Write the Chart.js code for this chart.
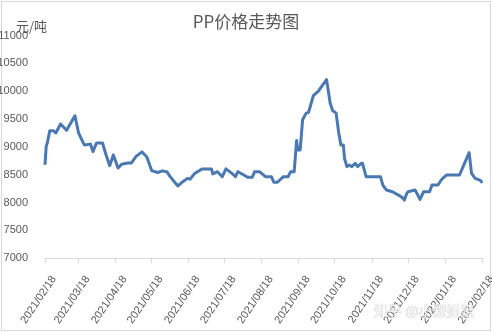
<!DOCTYPE html>
<html>
<head>
<meta charset="utf-8">
<script src="https://cdn.jsdelivr.net/npm/chart.js@4.4.0/dist/chart.umd.min.js"></script>
<style>
html, body { margin: 0; padding: 0; background: #fff; }
#box { width: 492px; height: 332px; }
</style>
</head>
<body>
<div id="box"><canvas id="c" width="492" height="332"></canvas></div>
<script>
// ===== 数据 =====
const dates = [
    '2021-02-18', '2021-02-19', '2021-02-20', '2021-02-22', '2021-02-25', '2021-02-27',
    '2021-03-03', '2021-03-08', '2021-03-15', '2021-03-18', '2021-03-22', '2021-03-23',
    '2021-03-28', '2021-03-30', '2021-04-02', '2021-04-07', '2021-04-10', '2021-04-13',
    '2021-04-16', '2021-04-20', '2021-04-23', '2021-04-28', '2021-05-01', '2021-05-05',
    '2021-05-10', '2021-05-14', '2021-05-18', '2021-05-23', '2021-05-27', '2021-05-31',
    '2021-06-02', '2021-06-07', '2021-06-09', '2021-06-13', '2021-06-17', '2021-06-19',
    '2021-06-23', '2021-06-27', '2021-06-29', '2021-07-07', '2021-07-08', '2021-07-12',
    '2021-07-16', '2021-07-19', '2021-07-24', '2021-07-27', '2021-07-29', '2021-08-03',
    '2021-08-06', '2021-08-10', '2021-08-12', '2021-08-16', '2021-08-21', '2021-08-26',
    '2021-08-28', '2021-08-31', '2021-09-05', '2021-09-09', '2021-09-11', '2021-09-14',
    '2021-09-16', '2021-09-17', '2021-09-19', '2021-09-21', '2021-09-24', '2021-09-26',
    '2021-09-30', '2021-10-04', '2021-10-11', '2021-10-14', '2021-10-16', '2021-10-19',
    '2021-10-21', '2021-10-23', '2021-10-25', '2021-10-26', '2021-10-28', '2021-10-30',
    '2021-11-01', '2021-11-04', '2021-11-06', '2021-11-09', '2021-11-10', '2021-11-13',
    '2021-11-25', '2021-11-27', '2021-11-30', '2021-12-05', '2021-12-10', '2021-12-13',
    '2021-12-15', '2021-12-17', '2021-12-18', '2021-12-24', '2021-12-28', '2021-12-31',
    '2022-01-05', '2022-01-07', '2022-01-12', '2022-01-15', '2022-01-19', '2022-01-30',
    '2022-02-07', '2022-02-09', '2022-02-12', '2022-02-16', '2022-02-18'
];
const prices = [
    8680, 9010, 9080, 9290, 9290, 9250,
    9410, 9300, 9560, 9250, 9070, 9035,
    9050, 8915, 9070, 9070, 8855, 8663,
    8855, 8620, 8690, 8710, 8710, 8830,
    8910, 8820, 8575, 8540, 8570, 8550,
    8480, 8345, 8300, 8375, 8435, 8420,
    8525, 8575, 8605, 8605, 8515, 8555,
    8465, 8605, 8525, 8465, 8555, 8495,
    8455, 8455, 8555, 8555, 8465, 8465,
    8365, 8365, 8465, 8465, 8555, 8555,
    9115, 8946, 8946, 9487, 9607, 9620,
    9920, 9997, 10208, 9787, 9654, 9607,
    9276, 9036, 9036, 8795, 8646, 8676,
    8646, 8706, 8646, 8706, 8706, 8465,
    8465, 8315, 8225, 8195, 8135, 8094,
    8045, 8166, 8195, 8225, 8058, 8195,
    8195, 8315, 8315, 8415, 8495, 8495,
    8897, 8525, 8435, 8405, 8357
];
const tickDates = [
    '2021/02/18', '2021/03/18', '2021/04/18', '2021/05/18', '2021/06/18', '2021/07/18',
    '2021/08/18', '2021/09/18', '2021/10/18', '2021/11/18', '2021/12/18', '2022/01/18', '2022/02/18'
];
const yTicks = [7000, 7500, 8000, 8500, 9000, 9500, 10000, 10500, 11000];

// ===== 工具 =====
const T0 = Date.UTC(2021, 1, 18);
function dayOf(s) {
    const p = s.split(/[-\/]/).map(Number);
    return (Date.UTC(p[0], p[1] - 1, p[2]) - T0) / 86400000;
}

const GREY = '#595959';
const FONT = 'Liberation Sans, Arial, sans-serif';

// 标题、单位、边框、水印
const decor = {
    id: 'decor',
    beforeDraw(chart) {
        const ctx = chart.ctx;
        ctx.save();
        ctx.fillStyle = '#fff';
        ctx.fillRect(0, 0, chart.width, chart.height);
        ctx.strokeStyle = '#d9d9d9';
        ctx.lineWidth = 1;
        ctx.strokeRect(1.5, 1.5, 489, 329);
        ctx.restore();
    },
    afterDraw(chart) {
        const ctx = chart.ctx;
        ctx.save();
        ctx.fillStyle = GREY;
        ctx.textBaseline = 'middle';
        ctx.textAlign = 'center';
        ctx.font = '17px "Noto Sans CJK SC", sans-serif';
        ctx.fillText('PP价格走势图', 246, 22);
        ctx.textAlign = 'left';
        ctx.font = '13px "Noto Sans CJK SC", sans-serif';
        ctx.fillText('元/吨', 16, 26);
        // 水印
        ctx.font = '14px "Noto Sans CJK SC", sans-serif';
        ctx.fillStyle = 'rgba(255,255,255,0.8)';
        ctx.strokeStyle = 'rgba(180,180,180,0.7)';
        ctx.lineWidth = 0.7;
        ctx.strokeText('知乎 @小塑姐姐', 374, 311);
        ctx.fillText('知乎 @小塑姐姐', 374, 311);
        ctx.restore();
    }
};

new Chart(document.getElementById('c'), {
    type: 'line',
    data: {
        datasets: [{
            data: dates.map((d, i) => ({ x: dayOf(d), y: prices[i] })),
            borderColor: '#4a78b0',
            borderWidth: 3,
            pointRadius: 0,
            tension: 0,
            borderJoinStyle: 'round',
            clip: false
        }]
    },
    options: {
        responsive: false,
        animation: false,
        layout: { padding: { top: 35.5, right: 9.7, left: 0, bottom: 0 } },
        plugins: { legend: { display: false }, title: { display: false }, tooltip: { enabled: false } },
        scales: {
            x: {
                type: 'linear',
                min: 0,
                max: 365,
                afterBuildTicks: s => { s.ticks = tickDates.map(t => ({ value: dayOf(t) })); },
                afterFit: s => { s.height = 73.7; s.paddingLeft = 0; s.paddingRight = 0; },
                ticks: {
                    autoSkip: false,
                    maxRotation: 56,
                    minRotation: 56,
                    padding: 10,
                    labelOffset: 9,
                    color: GREY,
                    font: { family: FONT, size: 11 },
                    callback: v => tickDates.find(t => dayOf(t) === v) || ''
                },
                grid: { drawOnChartArea: false, tickLength: 5, color: '#d9d9d9' },
                border: { color: '#d9d9d9' }
            },
            y: {
                min: 7000,
                max: 11000,
                afterBuildTicks: s => { s.ticks = yTicks.map(v => ({ value: v })); },
                afterFit: s => { s.width = 45; s.paddingTop = 0; s.paddingBottom = 0; },
                ticks: {
                    padding: 9,
                    color: GREY,
                    font: { family: FONT, size: 11 },
                    callback: v => String(v)
                },
                grid: { display: false },
                border: { display: false }
            }
        }
    },
    plugins: [decor]
});
</script>
</body>
</html>
